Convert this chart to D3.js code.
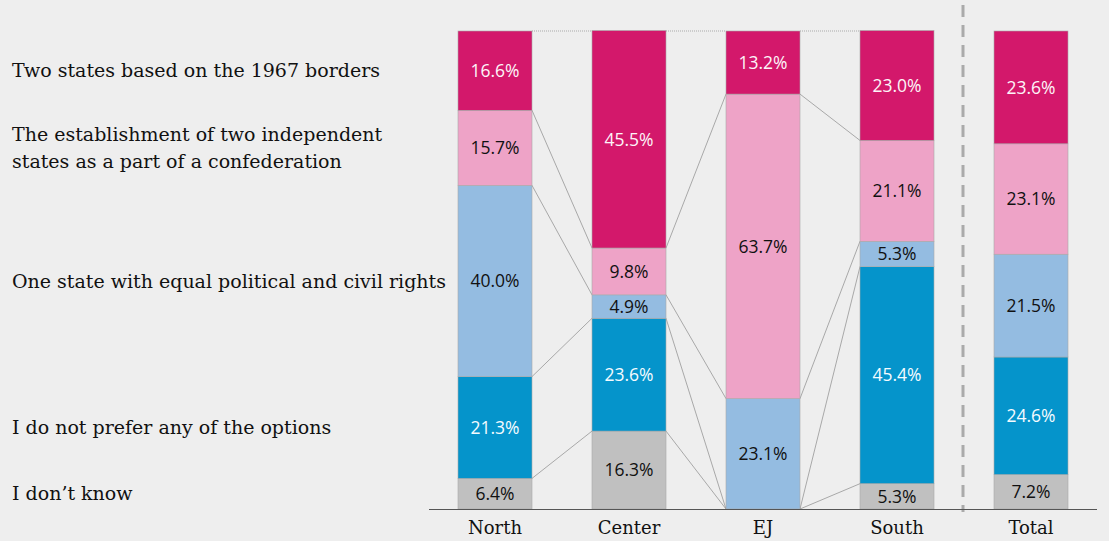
<!DOCTYPE html>
<html><head><meta charset="utf-8">
<script src="https://cdn.jsdelivr.net/npm/d3@7"></script>
<style>
html,body{margin:0;padding:0;background:#eeeeee;}
svg{display:block;}
</style></head>
<body>
<svg id="chart" width="1109" height="541"></svg>
<script>
const categories = ["North", "Center", "EJ", "South", "Total"];
const seriesNames = [
  "Two states based on the 1967 borders",
  "The establishment of two independent states as a part of a confederation",
  "One state with equal political and civil rights",
  "I do not prefer any of the options",
  "I don\u2019t know"
];
const labelLines = [
  ["Two states based on the 1967 borders"],
  ["The establishment of two independent", "states as a part of a confederation"],
  ["One state with equal political and civil rights"],
  ["I do not prefer any of the options"],
  ["I don\u2019t know"]
];
const twoStates     = [16.6, 45.5, 13.2, 23.0, 23.6];
const confederation = [15.7,  9.8, 63.7, 21.1, 23.1];
const oneState      = [40.0,  4.9, 23.1,  5.3, 21.5];
const noPreference  = [21.3, 23.6,  0.0, 45.4, 24.6];
const dontKnow      = [ 6.4, 16.3,  0.0,  5.3,  7.2];
const colors = ["#d3186b", "#eea3c7", "#94bce1", "#0594cb", "#c0c0c0"];
const textColors = ["#fdf4f8", "#111111", "#111111", "#f4fbff", "#111111"];

const series = [twoStates, confederation, oneState, noPreference, dontKnow];

const svg = d3.select("#chart");

const step = 134, barW = 74, x0 = 458;
const xPos = d3.scaleOrdinal().domain(categories).range(categories.map((c, i) => x0 + i * step));
const y = d3.scaleLinear().domain([0, 100]).range([509, 31]);

const data = categories.map((c, i) => {
  const o = {cat: c};
  series.forEach((s, k) => o["s" + k] = s[i]);
  return o;
});
const keys = [4, 3, 2, 1, 0].map(k => "s" + k);
const stack = d3.stack().keys(keys)(data);

// connectors between adjacent bars (not to Total)
const gConn = svg.append("g");
for (let i = 0; i < 3; i++) {
  stack.forEach((layer, li) => {
    const a = layer[i][1], b = layer[i + 1][1];
    const isTop = li === stack.length - 1;
    gConn.append("line")
      .attr("x1", xPos(categories[i]) + barW)
      .attr("x2", xPos(categories[i + 1]))
      .attr("y1", isTop ? y(100) : y(a))
      .attr("y2", isTop ? y(100) : y(b))
      .attr("stroke", isTop ? "#aaaaaa" : "#8a8a8a")
      .attr("stroke-width", isTop ? 1 : 0.7)
      .attr("stroke-dasharray", isTop ? "1,1" : null);
  });
}

// bars
const gBars = svg.append("g");
stack.forEach((layer) => {
  const k = +layer.key.slice(1);
  layer.forEach((d, i) => {
    const h = y(d[0]) - y(d[1]);
    if (h <= 0) return;
    gBars.append("rect")
      .attr("x", xPos(categories[i]))
      .attr("y", y(d[1]))
      .attr("width", barW)
      .attr("height", h)
      .attr("fill", colors[k])
      .attr("stroke", "#a9a9a9")
      .attr("stroke-width", 0.6);
  });
});
stack.forEach((layer) => {
  const k = +layer.key.slice(1);
  layer.forEach((d, i) => {
    const v = d[1] - d[0];
    if (v <= 0) return;
    gBars.append("text")
      .attr("x", xPos(categories[i]) + barW / 2)
      .attr("y", (y(d[0]) + y(d[1])) / 2)
      .attr("dy", "0.36em")
      .attr("text-anchor", "middle")
      .attr("font-family", "'Open Sans', 'Noto Sans', sans-serif")
      .attr("font-size", 17.5)
      .attr("fill", textColors[k])
      .text(series[k][i].toFixed(1) + "%");
  });
});

// separator
svg.append("line")
  .attr("x1", 963).attr("x2", 963)
  .attr("y1", 5).attr("y2", 512)
  .attr("stroke", "#aaaaaa").attr("stroke-width", 3)
  .attr("stroke-dasharray", "12,8");

// axis baseline
svg.append("line")
  .attr("x1", 429).attr("x2", 1097)
  .attr("y1", 509.5).attr("y2", 509.5)
  .attr("stroke", "#555").attr("stroke-width", 1);

// category labels
svg.append("g").selectAll("text").data(categories).join("text")
  .attr("x", c => xPos(c) + barW / 2)
  .attr("y", 534)
  .attr("text-anchor", "middle")
  .attr("font-family", "'DejaVu Serif', serif")
  .attr("font-size", 18)
  .attr("fill", "#111")
  .text(c => c);

// left series labels aligned to North segments
const gLab = svg.append("g");
stack.forEach((layer) => {
  const k = +layer.key.slice(1);
  const d = layer[0];
  const cy = (y(d[0]) + y(d[1])) / 2;
  const lines = labelLines[k];
  const lh = 27;
  lines.forEach((ln, j) => {
    gLab.append("text")
      .attr("x", 12)
      .attr("y", cy + (j - (lines.length - 1) / 2) * lh)
      .attr("dy", "0.35em")
      .attr("font-family", "'DejaVu Serif', serif")
      .attr("font-size", 19)
      .attr("fill", "#111")
      .text(ln);
  });
});
</script>
</body></html>
